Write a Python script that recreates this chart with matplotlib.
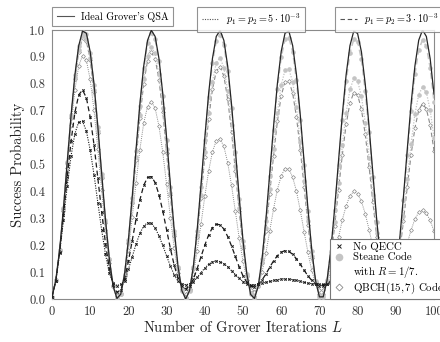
import matplotlib
matplotlib.use("Agg")
import matplotlib.pyplot as plt
from matplotlib.lines import Line2D

plt.rcParams['font.family'] = 'serif'
plt.rcParams['font.serif'] = ['cmr10']
plt.rcParams['mathtext.fontset'] = 'cm'
plt.rcParams['axes.formatter.use_mathtext'] = True

iterations = list(range(0, 101))

ideal = [0.008,0.069,0.183,0.337,0.511,0.684,0.834,0.942,0.996,0.988,
0.919,0.799,0.641,0.467,0.295,0.151,0.048,0.002,0.018,0.093,
0.219,0.380,0.556,0.724,0.865,0.961,0.999,0.976,0.894,0.763,
0.599,0.423,0.256,0.120,0.031,0.000,0.031,0.120,0.257,0.423,
0.599,0.763,0.894,0.976,0.999,0.961,0.865,0.723,0.555,0.379,
0.218,0.093,0.017,0.002,0.048,0.151,0.296,0.467,0.642,0.800,
0.920,0.988,0.996,0.942,0.833,0.683,0.510,0.336,0.183,0.068,
0.008,0.008,0.069,0.184,0.338,0.512,0.685,0.834,0.942,0.996,
0.987,0.919,0.799,0.641,0.466,0.295,0.151,0.048,0.002,0.018,
0.093,0.219,0.380,0.556,0.725,0.866,0.962,1.000,0.976,0.893,0.762]

noqecc_p5 = [0.008,0.068,0.170,0.294,0.421,0.533,0.615,0.659,0.661,0.624,
0.554,0.462,0.358,0.257,0.166,0.097,0.060,0.050,0.055,0.068,
0.110,0.157,0.204,0.244,0.271,0.284,0.281,0.264,0.235,0.199,
0.160,0.122,0.090,0.066,0.056,0.053,0.056,0.064,0.080,0.098,
0.115,0.129,0.138,0.142,0.139,0.131,0.120,0.105,0.091,0.077,
0.065,0.057,0.053,0.052,0.055,0.058,0.062,0.066,0.069,0.072,
0.074,0.075,0.074,0.072,0.069,0.066,0.062,0.059,0.057,0.055,
0.054,0.054,0.055,0.056,0.057,0.059,0.060,0.061,0.061,0.061,
0.060,0.059,0.058,0.057,0.056,0.055,0.055,0.055,0.055,0.055,
0.055,0.055,0.056,0.056,0.057,0.057,0.057,0.057,0.057,0.057,0.056]

noqecc_p3 = [0.008,0.068,0.175,0.311,0.455,0.588,0.694,0.759,0.777,0.748,
0.676,0.573,0.449,0.323,0.206,0.114,0.051,0.025,0.034,0.075,
0.140,0.217,0.297,0.368,0.422,0.452,0.455,0.433,0.388,0.327,
0.257,0.187,0.125,0.077,0.047,0.038,0.048,0.074,0.113,0.157,
0.200,0.238,0.265,0.278,0.276,0.260,0.232,0.197,0.158,0.119,
0.086,0.062,0.048,0.046,0.054,0.071,0.093,0.118,0.142,0.161,
0.174,0.180,0.177,0.166,0.149,0.129,0.107,0.086,0.069,0.056,
0.050,0.050,0.056,0.067,0.080,0.093,0.106,0.116,0.123,0.124,
0.122,0.115,0.105,0.093,0.081,0.070,0.061,0.055,0.052,0.053,
0.057,0.063,0.071,0.078,0.085,0.090,0.093,0.094,0.091,0.087,0.081]

steane_p5 = [0.008,0.069,0.183,0.335,0.506,0.676,0.821,0.926,0.976,0.966,
0.897,0.778,0.623,0.453,0.287,0.147,0.048,0.004,0.019,0.091,
0.210,0.362,0.527,0.685,0.816,0.904,0.937,0.913,0.835,0.711,
0.558,0.394,0.240,0.114,0.033,0.004,0.033,0.114,0.237,0.387,
0.545,0.691,0.807,0.878,0.897,0.860,0.773,0.646,0.496,0.340,
0.198,0.087,0.022,0.008,0.049,0.137,0.263,0.410,0.559,0.693,
0.794,0.851,0.855,0.807,0.713,0.585,0.438,0.290,0.161,0.065,
0.015,0.015,0.066,0.161,0.287,0.430,0.571,0.692,0.779,0.820,
0.811,0.754,0.655,0.526,0.385,0.246,0.131,0.048,0.012,0.024,
0.084,0.184,0.310,0.447,0.578,0.687,0.760,0.788,0.768,0.702,0.599]

steane_p3 = [0.008,0.069,0.183,0.337,0.510,0.683,0.832,0.939,0.992,0.984,
0.916,0.796,0.638,0.465,0.294,0.150,0.048,0.002,0.018,0.093,
0.218,0.377,0.551,0.718,0.857,0.952,0.989,0.966,0.884,0.754,
0.592,0.418,0.254,0.119,0.031,0.001,0.031,0.119,0.253,0.417,
0.590,0.750,0.879,0.959,0.982,0.944,0.849,0.710,0.545,0.372,
0.215,0.092,0.018,0.003,0.048,0.148,0.291,0.458,0.628,0.782,
0.899,0.965,0.972,0.919,0.813,0.667,0.498,0.328,0.179,0.068,
0.009,0.009,0.069,0.180,0.329,0.498,0.665,0.810,0.915,0.966,
0.957,0.891,0.774,0.621,0.452,0.286,0.147,0.048,0.004,0.019,
0.092,0.213,0.368,0.537,0.699,0.835,0.927,0.963,0.939,0.860,0.734]

qbch_p5 = [0.008,0.069,0.180,0.326,0.488,0.645,0.777,0.867,0.905,0.887,
0.816,0.702,0.558,0.404,0.256,0.134,0.048,0.011,0.024,0.084,
0.181,0.303,0.433,0.555,0.653,0.715,0.734,0.709,0.643,0.545,
0.426,0.302,0.188,0.096,0.038,0.018,0.038,0.094,0.178,0.278,
0.382,0.475,0.547,0.589,0.595,0.567,0.506,0.422,0.326,0.227,
0.140,0.072,0.033,0.025,0.049,0.100,0.172,0.253,0.335,0.407,
0.458,0.485,0.483,0.453,0.400,0.329,0.250,0.173,0.106,0.058,
0.033,0.033,0.058,0.103,0.163,0.229,0.294,0.347,0.384,0.400,
0.392,0.363,0.317,0.258,0.194,0.134,0.084,0.049,0.034,0.040,
0.064,0.104,0.154,0.207,0.256,0.297,0.322,0.330,0.319,0.292,0.252]

qbch_p3 = [0.008,0.069,0.182,0.334,0.504,0.673,0.817,0.920,0.969,0.959,
0.889,0.771,0.617,0.448,0.284,0.146,0.048,0.005,0.020,0.090,
0.207,0.356,0.518,0.672,0.800,0.885,0.917,0.893,0.815,0.694,
0.544,0.385,0.234,0.113,0.033,0.006,0.033,0.112,0.231,0.376,
0.528,0.668,0.779,0.847,0.864,0.828,0.743,0.621,0.477,0.327,
0.191,0.086,0.023,0.010,0.049,0.133,0.253,0.392,0.533,0.660,
0.755,0.808,0.811,0.765,0.676,0.555,0.416,0.276,0.154,0.064,
0.017,0.017,0.065,0.154,0.272,0.405,0.536,0.649,0.729,0.767,
0.759,0.705,0.612,0.492,0.360,0.232,0.124,0.048,0.015,0.026,
0.082,0.173,0.289,0.416,0.536,0.635,0.702,0.726,0.707,0.646,0.552]

x_ticks = [0, 10, 20, 30, 40, 50, 60, 70, 80, 90, 100]
y_ticks = [0.0, 0.1, 0.2, 0.3, 0.4, 0.5, 0.6, 0.7, 0.8, 0.9, 1.0]

C_IDEAL = '#262626'
C_NO = '#1a1a1a'
C_ST = '#c4c4c4'
C_QB = '#8a8a8a'
DOT = (0, (1, 1.2))
DASH = (0, (4, 2.5))

fig = plt.figure(figsize=(4.4, 3.42), dpi=100)
ax = fig.add_axes([52/440, 1-299/342, (434-52)/440, (299-30)/342])

ax.plot(iterations, qbch_p5, linestyle=DOT, color=C_QB, lw=0.7, marker='D', ms=2.0,
        mfc='white', mec=C_QB, mew=0.5, zorder=2)
ax.plot(iterations, qbch_p3, linestyle=DASH, color=C_QB, lw=0.8, marker='D', ms=2.0,
        mfc='white', mec=C_QB, mew=0.5, zorder=2)
ax.plot(iterations, steane_p5, linestyle=DOT, color=C_ST, lw=0.9, marker='o', ms=2.3,
        mfc=C_ST, mec=C_ST, zorder=3)
ax.plot(iterations, steane_p3, linestyle=DASH, color=C_ST, lw=1.1, marker='o', ms=2.3,
        mfc=C_ST, mec=C_ST, zorder=3)
ax.plot(iterations, noqecc_p5, linestyle=DOT, color=C_NO, lw=0.8, marker='x', ms=1.7,
        mew=0.7, zorder=4)
ax.plot(iterations, noqecc_p3, linestyle=DASH, color=C_NO, lw=0.9, marker='x', ms=1.7,
        mew=0.7, zorder=4)
ax.plot(iterations, ideal, linestyle='-', color=C_IDEAL, lw=0.9, zorder=5)

ax.set_xlim(0, 100)
ax.set_ylim(0, 1.0)
ax.set_xticks(x_ticks)
ax.set_yticks(y_ticks)
ax.set_xticklabels([str(t) for t in x_ticks])
ax.set_yticklabels(['%.1f' % t for t in y_ticks])
ax.tick_params(length=0, labelsize=9, pad=5, colors='#333333')
for s in ax.spines.values():
    s.set_color('#8a8a8a')
    s.set_linewidth(0.8)
ax.set_xlabel('Number of Grover Iterations $L$', fontsize=10.5, color='#222222', labelpad=1)
ax.set_ylabel('Success Probability', fontsize=10.5, color='#222222', labelpad=3)

leg_kw = dict(fontsize=7.3, frameon=True, fancybox=False, edgecolor='#777777',
              borderpad=0.45, handlelength=1.7, handletextpad=0.7, borderaxespad=0)
tops = [
    ([Line2D([], [], color='#555555', lw=0.8, linestyle='-')], ["Ideal Grover's QSA"], 52/440),
    ([Line2D([], [], color='#555555', lw=0.8, linestyle=DOT)], [r'$p_1 = p_2 = 5\cdot 10^{-3}$'], 197/440),
    ([Line2D([], [], color='#555555', lw=0.8, linestyle=DASH)], [r'$p_1 = p_2 = 3\cdot 10^{-3}$'], 335/440),
]
for h, l, x0 in tops:
    lg = fig.legend(h, l, loc='upper left', bbox_to_anchor=(x0, 1-7/342), **leg_kw)
    lg.get_frame().set_linewidth(0.8)

mk = [Line2D([], [], linestyle='none', marker='x', color=C_NO, ms=2.5, mew=0.7),
      Line2D([], [], linestyle='none', marker='o', color=C_ST, mec=C_ST, ms=4.5),
      Line2D([], [], linestyle='none', marker='none'),
      Line2D([], [], linestyle='none', marker='D', mfc='white', mec=C_QB, ms=3.5, mew=0.6)]
lab = ['No QECC', 'Steane Code', 'with $R = 1/7$.', 'QBCH$(15,7)$ Code']
lg2 = ax.legend(mk, lab, loc='lower left', bbox_to_anchor=((330-52)/382, 0.0),
                fontsize=7.8, frameon=True, fancybox=False, edgecolor='#777777',
                borderpad=0.25, handlelength=1.1, handletextpad=0.8, labelspacing=0.12,
                borderaxespad=0, framealpha=1)
lg2.get_frame().set_linewidth(0.8)
lg2.set_zorder(10)

fig.savefig('out.png', dpi=100)
